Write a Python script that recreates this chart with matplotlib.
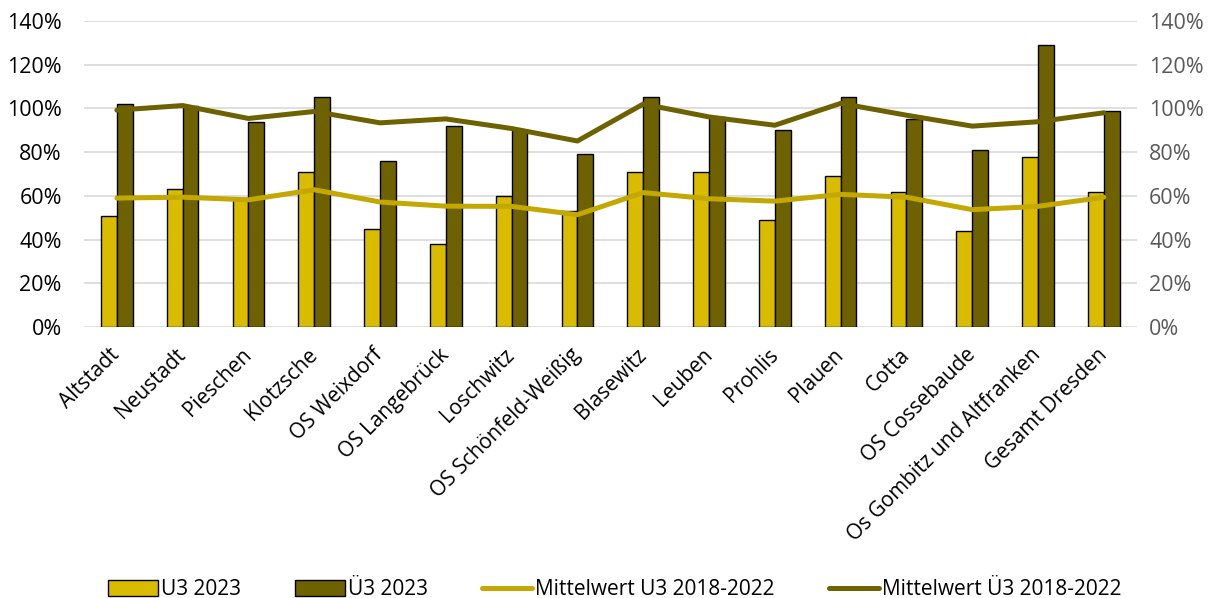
import numpy as np
import matplotlib.pyplot as plt
from matplotlib.ticker import PercentFormatter

plt.rcParams['font.family'] = ['Open Sans', 'DejaVu Sans']

# Stadtteile / Ortschaften
stadtteile = ["Altstadt", "Neustadt", "Pieschen", "Klotzsche", "OS Weixdorf",
              "OS Langebrück", "Loschwitz", "OS Schönfeld-Weißig", "Blasewitz",
              "Leuben", "Prohlis", "Plauen", "Cotta", "OS Cossebaude",
              "Os Gombitz und Altfranken", "Gesamt Dresden"]

# Betreuungsquoten in %
u3_2023 = [51, 63, 59, 71, 45, 38, 60, 53, 71, 71, 49, 69, 62, 44, 78, 62]
ue3_2023 = [102, 101, 94, 105, 76, 92, 90, 79, 105, 96, 90, 105, 95, 81, 129, 99]
mw_u3 = [59, 59.4, 58.2, 62.8, 57.2, 55.3, 55.2, 51.4, 61.5, 58.7, 57.6, 60.7, 59.4, 53.7, 55.2, 59.4]
mw_ue3 = [99.2, 101.3, 95.4, 98.6, 93.4, 95.2, 90.8, 85.1, 102, 96.1, 92.3, 102.3, 96.9, 91.9, 93.9, 98]

gelb = "#D9BC00"
oliv = "#6E6100"
gelb_linie = "#C2A800"

fig = plt.figure(figsize=(12.17, 5.98), dpi=100)
ax = fig.add_axes([0.069, 0.453, 0.865, 0.512])

x = np.arange(len(stadtteile))
w = 0.24
b1 = ax.bar(x - w / 2, u3_2023, w, color=gelb, edgecolor="black", linewidth=1, label="U3 2023", zorder=2)
b2 = ax.bar(x + w / 2, ue3_2023, w, color=oliv, edgecolor="black", linewidth=1, label="Ü3 2023", zorder=2)
l1, = ax.plot(x, mw_u3, color=gelb_linie, lw=3.6, label="Mittelwert U3 2018-2022", zorder=3, solid_capstyle="round")
l2, = ax.plot(x, mw_ue3, color=oliv, lw=3.6, label="Mittelwert Ü3 2018-2022", zorder=3, solid_capstyle="round")

ax.set_xlim(-0.5, len(stadtteile) - 0.5)
ax.set_ylim(0, 140)
ax.set_yticks(np.arange(0, 141, 20))
ax.yaxis.set_major_formatter(PercentFormatter(decimals=0))
ax.grid(axis="y", color="#D9D9D9", lw=1.2, zorder=0)
for s in ax.spines.values():
    s.set_visible(False)
ax.tick_params(axis="both", length=0, colors="black")
ax.tick_params(axis="y", pad=16, labelsize=15.5)
ax.tick_params(axis="x", pad=18)
ax.set_xticks(x)
ax.set_xticklabels(stadtteile, rotation=45, ha="right", va="center",
                   rotation_mode="anchor", fontsize=15)

ax2 = ax.twinx()
ax2.set_ylim(0, 140)
ax2.set_yticks(np.arange(0, 141, 20))
ax2.yaxis.set_major_formatter(PercentFormatter(decimals=0))
for s in ax2.spines.values():
    s.set_visible(False)
ax2.tick_params(axis="y", length=0, labelsize=15.5, labelcolor="#595959", pad=9)

fig.legend(handles=[b1, b2, l1, l2], loc="lower center", bbox_to_anchor=(0.505, -0.035), ncol=4,
           frameon=False, fontsize=15, handlelength=2.4, handleheight=0.75,
           handletextpad=0.15, columnspacing=2.6)

fig.savefig("out.png", dpi=100)
